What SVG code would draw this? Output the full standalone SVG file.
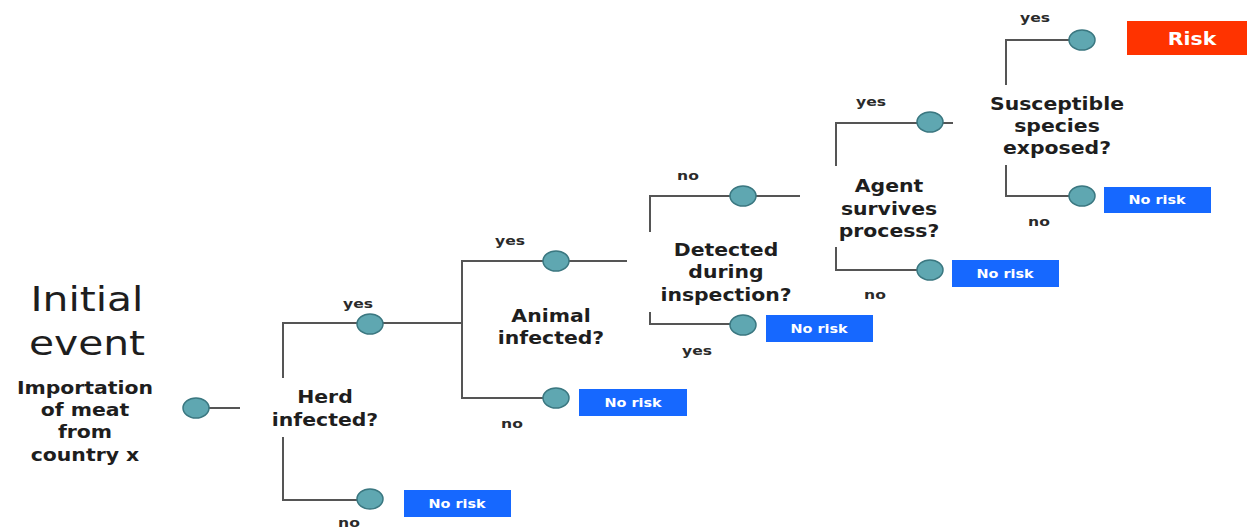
<svg xmlns="http://www.w3.org/2000/svg" width="1247" height="529" viewBox="0 0 1247 529">
  <defs>
    <style>
      .bg { fill: #ffffff; }
      .ln { stroke: #555555; stroke-width: 2; fill: none; }
      .dot { fill: #5fa7b1; stroke: #3a7780; stroke-width: 1.5; }
      .q { font-family: "DejaVu Sans", Verdana, sans-serif; font-weight: bold; font-size: 17px; fill: #1e1e1e; text-anchor: middle; }
      .big { font-family: "DejaVu Sans", Verdana, sans-serif; font-size: 34px; fill: #1e1e1e; text-anchor: middle; }
      .lbl { font-family: "DejaVu Sans", Verdana, sans-serif; font-weight: bold; font-size: 13px; fill: #2a2a2a; text-anchor: middle; }
      .nr { fill: #1668ff; }
      .rk { fill: #ff3300; }
      .bt { font-family: "DejaVu Sans", Verdana, sans-serif; font-weight: bold; font-size: 12px; fill: #ffffff; text-anchor: middle; }
      .bt2 { font-family: "DejaVu Sans", Verdana, sans-serif; font-weight: bold; font-size: 17px; fill: #ffffff; text-anchor: middle; }
    </style>
  </defs>
  <rect class="bg" x="0" y="0" width="1247" height="529"/>

  <!-- branch lines -->
  <g id="connectors">
    <path class="ln" d="M196 408 H240"/>
    <path class="ln" d="M283 378 V323 H370 H462"/>
    <path class="ln" d="M283 437 V500 H370"/>
    <path class="ln" d="M462 325 V261 H556 H627"/>
    <path class="ln" d="M462 325 V398 H556"/>
    <path class="ln" d="M650 232 V196 H743 H800"/>
    <path class="ln" d="M650 312 V324 H743"/>
    <path class="ln" d="M836 166 V123 H930 H953"/>
    <path class="ln" d="M836 247 V270 H930"/>
    <path class="ln" d="M1006 85 V40 H1082"/>
    <path class="ln" d="M1006 165 V196 H1082"/>
  </g>

  <!-- initial event -->
  <g id="initial">
    <text class="big" transform="translate(87 311) scale(1.2 1)">Initial</text>
    <text class="big" transform="translate(87 355) scale(1.2 1)">event</text>
    <text class="q" transform="translate(85 394) scale(1.2 1)">Importation</text>
    <text class="q" transform="translate(85 416) scale(1.2 1)">of meat</text>
    <text class="q" transform="translate(85 438) scale(1.2 1)">from</text>
    <text class="q" transform="translate(85 461) scale(1.2 1)">country x</text>
    <ellipse class="dot" cx="196" cy="408" rx="13" ry="10"/>
  </g>

  <!-- herd infected -->
  <g id="herd">
    <text class="q" transform="translate(325 403) scale(1.2 1)">Herd</text>
    <text class="q" transform="translate(325 426) scale(1.2 1)">infected?</text>
    <text class="lbl" transform="translate(358 308) scale(1.2 1)">yes</text>
    <text class="lbl" transform="translate(349 527) scale(1.2 1)">no</text>
    <ellipse class="dot" cx="370" cy="324" rx="13" ry="10"/>
    <ellipse class="dot" cx="370" cy="499" rx="13" ry="10"/>
    <rect class="nr" x="404" y="490" width="107" height="27"/>
    <text class="bt" transform="translate(457 508) scale(1.2 1)">No risk</text>
  </g>

  <!-- animal infected -->
  <g id="animal">
    <text class="q" transform="translate(551 322) scale(1.2 1)">Animal</text>
    <text class="q" transform="translate(551 344) scale(1.2 1)">infected?</text>
    <text class="lbl" transform="translate(510 245) scale(1.2 1)">yes</text>
    <text class="lbl" transform="translate(512 428) scale(1.2 1)">no</text>
    <ellipse class="dot" cx="556" cy="261" rx="13" ry="10"/>
    <ellipse class="dot" cx="556" cy="398" rx="13" ry="10"/>
    <rect class="nr" x="579" y="389" width="108" height="27"/>
    <text class="bt" transform="translate(633 407) scale(1.2 1)">No risk</text>
  </g>

  <!-- detection -->
  <g id="detected">
    <text class="q" transform="translate(726 256) scale(1.2 1)">Detected</text>
    <text class="q" transform="translate(726 278) scale(1.2 1)">during</text>
    <text class="q" transform="translate(726 301) scale(1.2 1)">inspection?</text>
    <text class="lbl" transform="translate(688 180) scale(1.2 1)">no</text>
    <text class="lbl" transform="translate(697 355) scale(1.2 1)">yes</text>
    <ellipse class="dot" cx="743" cy="196" rx="13" ry="10"/>
    <ellipse class="dot" cx="743" cy="325" rx="13" ry="10"/>
    <rect class="nr" x="766" y="315" width="107" height="27"/>
    <text class="bt" transform="translate(819 333) scale(1.2 1)">No risk</text>
  </g>

  <!-- agent survival -->
  <g id="agent">
    <text class="q" transform="translate(889 192) scale(1.2 1)">Agent</text>
    <text class="q" transform="translate(889 215) scale(1.2 1)">survives</text>
    <text class="q" transform="translate(889 237) scale(1.2 1)">process?</text>
    <text class="lbl" transform="translate(871 106) scale(1.2 1)">yes</text>
    <text class="lbl" transform="translate(875 299) scale(1.2 1)">no</text>
    <ellipse class="dot" cx="930" cy="122" rx="13" ry="10"/>
    <ellipse class="dot" cx="930" cy="270" rx="13" ry="10"/>
    <rect class="nr" x="952" y="260" width="107" height="27"/>
    <text class="bt" transform="translate(1005 278) scale(1.2 1)">No risk</text>
  </g>

  <!-- exposure of susceptible species -->
  <g id="exposure">
    <text class="q" transform="translate(1057 110) scale(1.2 1)">Susceptible</text>
    <text class="q" transform="translate(1057 132) scale(1.2 1)">species</text>
    <text class="q" transform="translate(1057 154) scale(1.2 1)">exposed?</text>
    <text class="lbl" transform="translate(1035 22) scale(1.2 1)">yes</text>
    <text class="lbl" transform="translate(1039 226) scale(1.2 1)">no</text>
    <ellipse class="dot" cx="1082" cy="40" rx="13" ry="10"/>
    <ellipse class="dot" cx="1082" cy="196" rx="13" ry="10"/>
    <rect class="nr" x="1104" y="187" width="107" height="26"/>
    <text class="bt" transform="translate(1157 204) scale(1.2 1)">No risk</text>
    <rect class="rk" x="1127" y="21" width="120" height="34"/>
    <text class="bt2" transform="translate(1192 45) scale(1.2 1)">Risk</text>
  </g>
</svg>
